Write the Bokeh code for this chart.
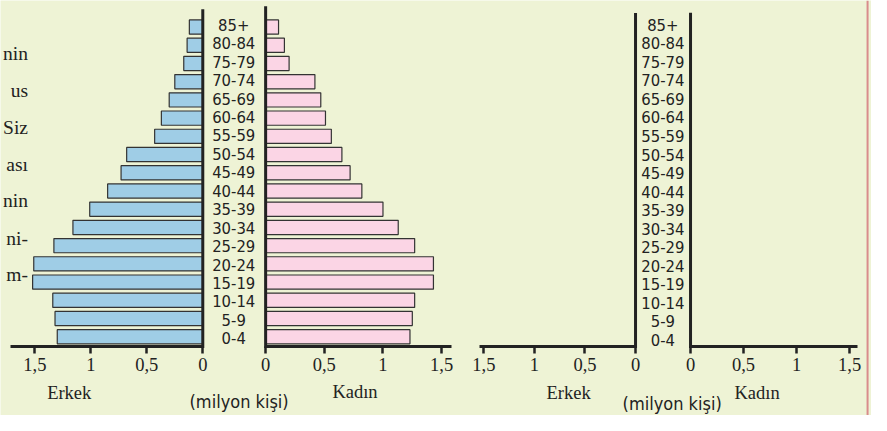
from bokeh.plotting import figure
from bokeh.models import Range1d, LinearAxis, FixedTicker, ColumnDataSource, Span
from bokeh.core.properties import value
from bokeh.embed import file_html
from bokeh.resources import INLINE

# ---------------- data ----------------
ages = ["0-4", "5-9", "10-14", "15-19", "20-24", "25-29", "30-34", "35-39", "40-44",
        "45-49", "50-54", "55-59", "60-64", "65-69", "70-74", "75-79", "80-84", "85+"]
male = [1.30, 1.32, 1.34, 1.52, 1.51, 1.33, 1.16, 1.01, 0.85,
        0.73, 0.68, 0.43, 0.37, 0.30, 0.25, 0.17, 0.14, 0.12]
female = [1.23, 1.25, 1.27, 1.43, 1.43, 1.27, 1.13, 1.00, 0.82,
          0.72, 0.65, 0.56, 0.51, 0.47, 0.42, 0.20, 0.16, 0.11]
ticks = [0, 0.5, 1, 1.5]
tick_labels = ["0", "0,5", "1", "1,5"]
sex_labels = ["Erkek", "Kadın"]
unit_label = "(milyon kişi)"
fragments = ["nin", "us", "Siz", "ası", "nin", "ni-", "m-"]

# ---------------- layout / style ----------------
W, H = 871, 415          # figure size (fits 887x431 window with 8px margin)
RW, RH = 887, 431        # layout coordinate space
BG = "#eef3d5"
BLUE = "#9fcde6"
PINK = "#fbd5e5"
EDGE = "#333333"
INK = "#222222"
AXIS_Y = 359.5


def xr(zero_px, px_per_unit):
    return Range1d(start=(0 - zero_px) / px_per_unit, end=(RW - zero_px) / px_per_unit)


def yr(zero_px, pitch):
    return Range1d(start=(zero_px - RH) / pitch, end=zero_px / pitch)


p = figure(width=W, height=H, output_backend="svg", toolbar_location=None,
           x_range=Range1d(0, RW), y_range=Range1d(RH, 0),
           x_axis_location=None, y_axis_location=None, min_border=0,
           background_fill_color=BG, border_fill_color=BG, outline_line_color=None)
p.grid.grid_line_color = None

p.extra_x_ranges = {"m1": xr(206, -114), "f1": xr(270, 119.5),
                    "m2": xr(646.7, -103), "f2": xr(702.7, 108)}
p.extra_y_ranges = {"rows": yr(349.2, 18.92), "lab1": yr(350.8, 19.15),
                    "lab2": yr(352.5, 19.25)}

src = ColumnDataSource(dict(idx=list(range(len(ages))), age=ages, male=male, female=female))

# bars
p.hbar(y="idx", left=0, right="male", height=0.78, source=src,
       x_range_name="m1", y_range_name="rows",
       fill_color=BLUE, line_color=EDGE, line_width=1.2)
p.hbar(y="idx", left=0, right="female", height=0.78, source=src,
       x_range_name="f1", y_range_name="rows",
       fill_color=PINK, line_color=EDGE, line_width=1.2)

# age labels
for cx, rn in ((237.5, "lab1"), (674.5, "lab2")):
    p.text(x=cx, y="idx", text="age", source=src, y_range_name=rn,
           text_align="center", text_baseline="middle",
           text_font=value("DejaVu Sans Condensed"), text_font_size="16.5px", text_color=INK)

# vertical lines
for rn, top in (("m1", 9), ("f1", 6), ("m2", 13), ("f2", 12.7)):
    p.segment(x0=0, y0=AXIS_Y + 1.5, x1=0, y1=top, x_range_name=rn,
              line_width=3, line_color=INK)

# horizontal axes
for rn, bnd in (("m1", (0, 1.72)), ("f1", (0, 1.58)), ("m2", (0, 1.54)), ("f2", (0, 1.57))):
    ax = LinearAxis(x_range_name=rn, ticker=FixedTicker(ticks=ticks), bounds=bnd,
                    fixed_location=AXIS_Y)
    ax.major_label_overrides = dict(zip(ticks, tick_labels))
    ax.axis_line_width = 3
    ax.axis_line_color = INK
    ax.major_tick_line_width = 2.5
    ax.major_tick_line_color = INK
    ax.major_tick_out = 7
    ax.major_tick_in = 0
    ax.minor_tick_line_color = None
    ax.major_label_text_font = "Liberation Serif"
    ax.major_label_text_font_size = "18.5px"
    ax.major_label_text_color = INK
    ax.major_label_standoff = 4
    p.add_layout(ax, "below")

# sex labels
p.text(x=[70, 361, 578.5, 770.5], y=[408, 407, 408, 408],
       text=[sex_labels[0], sex_labels[1], sex_labels[0], sex_labels[1]],
       text_align="center", text_baseline="alphabetic",
       text_font=value("Liberation Serif"), text_font_size="18.5px", text_color=INK)

# unit labels
p.text(x=[243, 684], y=[416, 419], text=[unit_label, unit_label],
       text_align="center", text_baseline="alphabetic",
       text_font=value("DejaVu Sans Condensed"), text_font_size="18px", text_color=INK)

# text fragments at the left edge (kept fully visible)
p.text(x=[28] * len(fragments), y=[55, 93, 132, 170, 208, 247, 285], text=fragments,
       text_align="right", text_baseline="alphabetic",
       text_font=value("Liberation Serif"), text_font_size="19.5px", text_color=INK)

# page edge line
p.add_layout(Span(location=883, dimension="height", line_color="#d98c8c", line_width=2))

open("out.html", "w").write(file_html(p, INLINE))
